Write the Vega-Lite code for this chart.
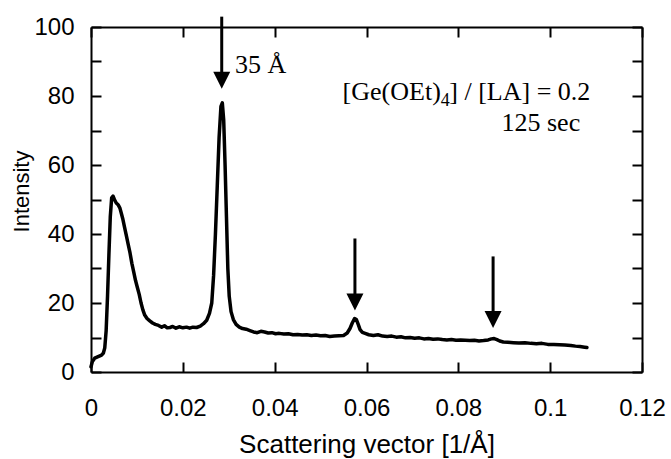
{
  "$schema": "https://vega.github.io/schema/vega-lite/v6.json",
  "width": 551,
  "height": 345,
  "autosize": "none",
  "padding": {"left": 91, "top": 27, "right": 29, "bottom": 87},
  "background": "white",
  "config": {
    "view": {"stroke": null},
    "axis": {
      "grid": false,
      "domainColor": "black",
      "domainWidth": 2,
      "tickColor": "black",
      "tickWidth": 2,
      "tickSize": -10,
      "labelFont": "Liberation Sans",
      "labelFontSize": 24,
      "labelColor": "black",
      "labelFlush": false,
      "labelOverlap": false,
      "labelBound": false,
      "titleFont": "Liberation Sans",
      "titleFontWeight": "normal",
      "titleColor": "black"
    }
  },
  "layer": [
    {
      "data": {
        "values": [
          {"q": 0.0000, "I": 1.5}, {"q": 0.0003, "I": 3.0}, {"q": 0.0008, "I": 4.0}, {"q": 0.0013, "I": 4.3},
          {"q": 0.0018, "I": 4.6}, {"q": 0.0023, "I": 4.9}, {"q": 0.0027, "I": 5.5}, {"q": 0.0030, "I": 7.0},
          {"q": 0.0033, "I": 12}, {"q": 0.0036, "I": 22}, {"q": 0.0039, "I": 34}, {"q": 0.0042, "I": 45},
          {"q": 0.0045, "I": 50.5}, {"q": 0.0048, "I": 51}, {"q": 0.0051, "I": 50}, {"q": 0.0055, "I": 49},
          {"q": 0.0059, "I": 48.5}, {"q": 0.0063, "I": 47.5}, {"q": 0.0066, "I": 46}, {"q": 0.0069, "I": 44.5},
          {"q": 0.0073, "I": 42}, {"q": 0.0077, "I": 39.5}, {"q": 0.0081, "I": 37}, {"q": 0.0085, "I": 34.5},
          {"q": 0.0089, "I": 31.5}, {"q": 0.0093, "I": 29}, {"q": 0.0097, "I": 26.5}, {"q": 0.0101, "I": 24.5},
          {"q": 0.0105, "I": 22.5}, {"q": 0.0109, "I": 20}, {"q": 0.0113, "I": 18}, {"q": 0.0117, "I": 16.5},
          {"q": 0.0122, "I": 15.5}, {"q": 0.0128, "I": 14.8}, {"q": 0.0134, "I": 14.2}, {"q": 0.0140, "I": 13.8},
          {"q": 0.0147, "I": 13.5}, {"q": 0.0154, "I": 13.0}, {"q": 0.0160, "I": 13.4}, {"q": 0.0166, "I": 12.8},
          {"q": 0.0172, "I": 12.9}, {"q": 0.0178, "I": 13.2}, {"q": 0.0185, "I": 12.7}, {"q": 0.0192, "I": 13.1},
          {"q": 0.0200, "I": 12.8}, {"q": 0.0208, "I": 13.0}, {"q": 0.0215, "I": 12.7}, {"q": 0.0222, "I": 13.0},
          {"q": 0.0230, "I": 12.9}, {"q": 0.0238, "I": 13.3}, {"q": 0.0245, "I": 14.0}, {"q": 0.0252, "I": 15.0},
          {"q": 0.0258, "I": 17}, {"q": 0.0263, "I": 20}, {"q": 0.0267, "I": 28}, {"q": 0.0271, "I": 40},
          {"q": 0.0275, "I": 54}, {"q": 0.0279, "I": 68}, {"q": 0.0283, "I": 77}, {"q": 0.0286, "I": 78},
          {"q": 0.0289, "I": 73}, {"q": 0.0292, "I": 60}, {"q": 0.0295, "I": 45}, {"q": 0.0298, "I": 30},
          {"q": 0.0301, "I": 22}, {"q": 0.0305, "I": 17.5}, {"q": 0.0310, "I": 15.2}, {"q": 0.0316, "I": 13.8},
          {"q": 0.0323, "I": 13.0}, {"q": 0.0330, "I": 12.6}, {"q": 0.0338, "I": 12.4}, {"q": 0.0346, "I": 12.0},
          {"q": 0.0354, "I": 11.6}, {"q": 0.0362, "I": 11.4}, {"q": 0.0370, "I": 11.8}, {"q": 0.0378, "I": 11.6},
          {"q": 0.0386, "I": 11.3}, {"q": 0.0394, "I": 11.4}, {"q": 0.0402, "I": 11.1}, {"q": 0.0410, "I": 11.2},
          {"q": 0.0420, "I": 11.0}, {"q": 0.0430, "I": 11.1}, {"q": 0.0440, "I": 10.8}, {"q": 0.0450, "I": 10.9},
          {"q": 0.0460, "I": 10.7}, {"q": 0.0470, "I": 10.8}, {"q": 0.0480, "I": 10.6}, {"q": 0.0490, "I": 10.7},
          {"q": 0.0500, "I": 10.5}, {"q": 0.0510, "I": 10.6}, {"q": 0.0520, "I": 10.3}, {"q": 0.0530, "I": 10.4},
          {"q": 0.0540, "I": 10.5}, {"q": 0.0550, "I": 10.6}, {"q": 0.0558, "I": 11.3}, {"q": 0.0564, "I": 12.6},
          {"q": 0.0569, "I": 14.2}, {"q": 0.0574, "I": 15.5}, {"q": 0.0578, "I": 15.2}, {"q": 0.0582, "I": 13.8},
          {"q": 0.0586, "I": 12.3}, {"q": 0.0591, "I": 11.5}, {"q": 0.0597, "I": 11.2}, {"q": 0.0605, "I": 10.8},
          {"q": 0.0615, "I": 10.6}, {"q": 0.0625, "I": 10.8}, {"q": 0.0635, "I": 10.4}, {"q": 0.0645, "I": 10.3},
          {"q": 0.0655, "I": 10.4}, {"q": 0.0665, "I": 10.1}, {"q": 0.0675, "I": 10.2}, {"q": 0.0685, "I": 9.9},
          {"q": 0.0695, "I": 10.0}, {"q": 0.0705, "I": 9.8}, {"q": 0.0715, "I": 9.9}, {"q": 0.0725, "I": 9.6},
          {"q": 0.0735, "I": 9.7}, {"q": 0.0745, "I": 9.5}, {"q": 0.0755, "I": 9.6}, {"q": 0.0765, "I": 9.4},
          {"q": 0.0775, "I": 9.3}, {"q": 0.0785, "I": 9.4}, {"q": 0.0795, "I": 9.2}, {"q": 0.0805, "I": 9.3},
          {"q": 0.0815, "I": 9.2}, {"q": 0.0825, "I": 9.1}, {"q": 0.0835, "I": 9.2}, {"q": 0.0845, "I": 9.0},
          {"q": 0.0855, "I": 9.1}, {"q": 0.0865, "I": 9.3}, {"q": 0.0872, "I": 9.6}, {"q": 0.0878, "I": 9.7},
          {"q": 0.0884, "I": 9.4}, {"q": 0.0890, "I": 9.0}, {"q": 0.0898, "I": 8.7}, {"q": 0.0908, "I": 8.6},
          {"q": 0.0920, "I": 8.5}, {"q": 0.0932, "I": 8.4}, {"q": 0.0945, "I": 8.5}, {"q": 0.0958, "I": 8.3},
          {"q": 0.0970, "I": 8.2}, {"q": 0.0982, "I": 8.3}, {"q": 0.0995, "I": 8.0}, {"q": 0.1008, "I": 8.0},
          {"q": 0.1020, "I": 7.9}, {"q": 0.1032, "I": 7.8}, {"q": 0.1045, "I": 7.7}, {"q": 0.1055, "I": 7.5},
          {"q": 0.1065, "I": 7.4}, {"q": 0.1075, "I": 7.2}, {"q": 0.1080, "I": 7.1}
        ]
      },
      "mark": {"type": "line", "color": "black", "strokeWidth": 3.5, "strokeJoin": "round", "strokeCap": "round"},
      "encoding": {
        "x": {
          "field": "q", "type": "quantitative",
          "scale": {"domain": [0, 0.12], "nice": false, "zero": false},
          "axis": {
            "orient": "bottom",
            "values": [0, 0.02, 0.04, 0.06, 0.08, 0.1, 0.12],
            "labelExpr": "'' + datum.value",
            "labelPadding": 34,
            "title": "Scattering vector [1/Å]",
            "titleFontSize": 26,
            "titleBaseline": "alphabetic",
            "titleY": 80.5
          }
        },
        "y": {
          "field": "I", "type": "quantitative",
          "scale": {"domain": [0, 100], "nice": false, "zero": false},
          "axis": {
            "orient": "left",
            "values": [0, 10, 20, 30, 40, 50, 60, 70, 80, 90, 100],
            "labelExpr": "datum.value % 20 === 0 ? datum.label : ''",
            "labelPadding": 27,
            "title": "Intensity",
            "titleFontSize": 22,
            "titleAngle": -90,
            "titleBaseline": "alphabetic",
            "titleX": -63,
            "titleY": 164
          }
        }
      }
    },
    {
      "data": {
        "values": [
          {"q": 0.02847, "top": 103.0, "base": 86.0},
          {"q": 0.05748, "top": 38.7, "base": 21.8},
          {"q": 0.08757, "top": 33.5, "base": 16.6}
        ]
      },
      "mark": {"type": "rule", "color": "black", "strokeWidth": 3},
      "encoding": {
        "x": {
          "field": "q", "type": "quantitative",
          "scale": {"domain": [0, 0.12], "nice": false, "zero": false},
          "axis": {"orient": "top", "values": [0, 0.02, 0.04, 0.06, 0.08, 0.1, 0.12], "labels": false, "title": null}
        },
        "y": {
          "field": "top", "type": "quantitative",
          "scale": {"domain": [0, 100], "nice": false, "zero": false},
          "axis": {"orient": "right", "values": [0, 10, 20, 30, 40, 50, 60, 70, 80, 90, 100], "labels": false, "title": null}
        },
        "y2": {"field": "base"}
      }
    },
    {
      "data": {
        "values": [
          {"q": 0.02847, "I": 84.6},
          {"q": 0.05748, "I": 20.3},
          {"q": 0.08757, "I": 15.2}
        ]
      },
      "mark": {"type": "point", "shape": "M-1,-1L1,-1L0,1Z", "size": 289, "filled": true, "color": "black", "opacity": 1, "strokeWidth": 0},
      "encoding": {
        "x": {"field": "q", "type": "quantitative", "scale": {"domain": [0, 0.12], "nice": false, "zero": false}, "axis": null},
        "y": {"field": "I", "type": "quantitative", "scale": {"domain": [0, 100], "nice": false, "zero": false}, "axis": null}
      }
    },
    {
      "data": {
        "values": [
          {"q": 0.03136, "I": 86.8, "label": "35 Å"},
          {"q": 0.0548, "I": 78.94, "label": "[Ge(OEt)"},
          {"q": 0.07804, "I": 78.94, "label": "] / [LA] = 0.2"},
          {"q": 0.0894, "I": 69.76, "label": "125 sec"}
        ]
      },
      "mark": {"type": "text", "align": "left", "baseline": "alphabetic", "font": "Liberation Serif", "fontSize": 26, "color": "black"},
      "encoding": {
        "x": {"field": "q", "type": "quantitative", "scale": {"domain": [0, 0.12], "nice": false, "zero": false}, "axis": null},
        "y": {"field": "I", "type": "quantitative", "scale": {"domain": [0, 100], "nice": false, "zero": false}, "axis": null},
        "text": {"field": "label"}
      }
    },
    {
      "data": {"values": [{"q": 0.07619, "I": 77.2, "label": "4"}]},
      "mark": {"type": "text", "align": "left", "baseline": "alphabetic", "font": "Liberation Serif", "fontSize": 18, "color": "black"},
      "encoding": {
        "x": {"field": "q", "type": "quantitative", "scale": {"domain": [0, 0.12], "nice": false, "zero": false}, "axis": null},
        "y": {"field": "I", "type": "quantitative", "scale": {"domain": [0, 100], "nice": false, "zero": false}, "axis": null},
        "text": {"field": "label"}
      }
    }
  ],
  "resolve": {"axis": {"x": "independent", "y": "independent"}}
}
